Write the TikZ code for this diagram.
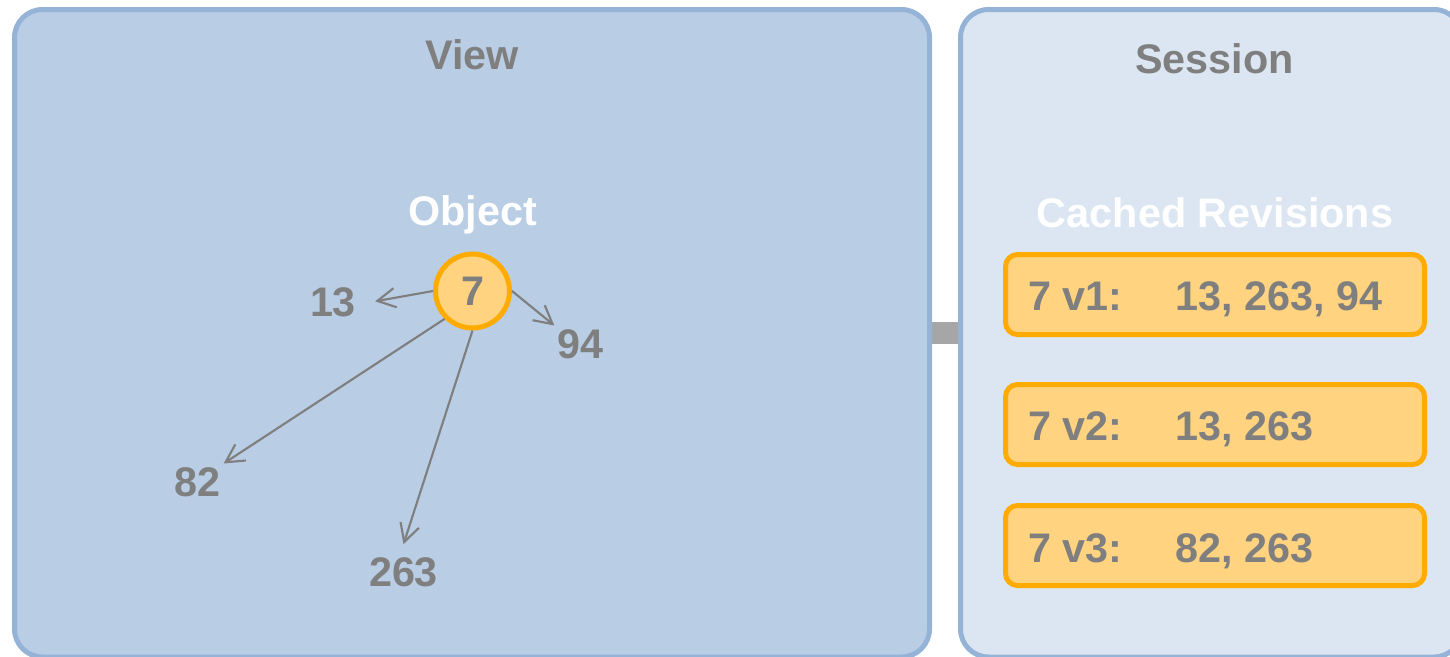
\documentclass[tikz,border=0pt]{standalone}
\usepackage{fontspec}
\setmainfont{Liberation Sans}
\usetikzlibrary{arrows.meta,fit}

\definecolor{panelline}{RGB}{149,179,215}
\definecolor{viewfill}{RGB}{185,205,229}
\definecolor{sessionfill}{RGB}{220,230,242}
\definecolor{objline}{RGB}{255,171,0}
\definecolor{objfill}{RGB}{255,211,127}
\definecolor{labelgray}{RGB}{127,127,127}
\definecolor{bandgray}{RGB}{166,166,166}

\newcommand{\bigbold}{\bfseries\fontsize{31}{37}\selectfont}

\tikzset{every picture/.style={line width=0.75pt}}
\tikzset{
  panel/.style={draw=panelline, line width=3.75pt, rounded corners=21pt, inner sep=0pt},
  title/.style={font=\bigbold, anchor=base, inner sep=0pt},
  num/.style={font=\bigbold, text=labelgray, anchor=base, inner sep=2pt, text height=22pt, text depth=0pt},
  objnode/.style={circle, draw=objline, fill=objfill, line width=3.75pt, minimum size=55.5pt, inner sep=0pt, font=\bigbold, text=labelgray, text height=22pt, text depth=0pt},
  revbox/.style={draw=objline, fill=objfill, line width=3.75pt, rounded corners=9pt, inner sep=0pt},
  revtext/.style={font=\bigbold, text=labelgray, anchor=base west, inner sep=0pt},
  link/.style={draw=labelgray, line width=1.6pt, -{Straight Barb[length=13.5pt,width=14.5pt]}}
}

\begin{document}
\begin{tikzpicture}[x=0.75pt,y=0.75pt,yscale=-1,xscale=1]
\useasboundingbox (0,0) rectangle (1450,657);
\clip (0,0) rectangle (1450,657);

%Panels
\node [panel, fill=viewfill, fit={(14.5,9.5) (929.5,657)}] (view) {};
\node [panel, fill=sessionfill, fit={(960.5,9.5) (1462,657)}] (session) {};
%Band between panels
\draw [bandgray, line width=16.5pt] (view.east) -- (session.west);

% Text Node
\node [title, text=labelgray] (viewtitle) at (472,69) {View};
% Text Node
\node [title, text=white] (objtitle) at (472.5,225) {Object};
% Text Node
\node [title, text=labelgray] (sessiontitle) at (1214.5,73) {Session};
% Text Node
\node [title, text=white] (cachetitle) at (1215,227) {Cached Revisions};

%Object and its references
\node [objnode] (obj) at (472.5,291) {7};
\node [num] (n13) at (333,316) {13};
\node [num] (n94) at (580.5,358) {94};
\node [num] (n82) at (197.5,496) {82};
\node [num] (n263) at (403.5,586) {263};

\draw [link] (obj.west) -- ([xshift=12pt]n13.east);
\draw [link] (obj.east) -- (n94.north west);
\draw [link] (obj.south west) -- (n82.north east);
\draw [link] (obj.south) -- ([yshift=-7pt]n263.north);

%Cached revisions
\node [revbox, fit={(1005.5,254.5) (1424.5,334.5)}] (rev1) {};
\node [revtext] (rev1key) at (1028,310) {7 v1:};
\node [revtext] (rev1val) at (1175,310) {13, 263, 94};

\node [revbox, fit={(1005.5,384.5) (1424.5,464.5)}] (rev2) {};
\node [revtext] (rev2key) at (1028,440) {7 v2:};
\node [revtext] (rev2val) at (1175,440) {13, 263};

\node [revbox, fit={(1005.5,505.5) (1424.5,585.5)}] (rev3) {};
\node [revtext] (rev3key) at (1028,562) {7 v3:};
\node [revtext] (rev3val) at (1175,562) {82, 263};

\end{tikzpicture}
\end{document}
